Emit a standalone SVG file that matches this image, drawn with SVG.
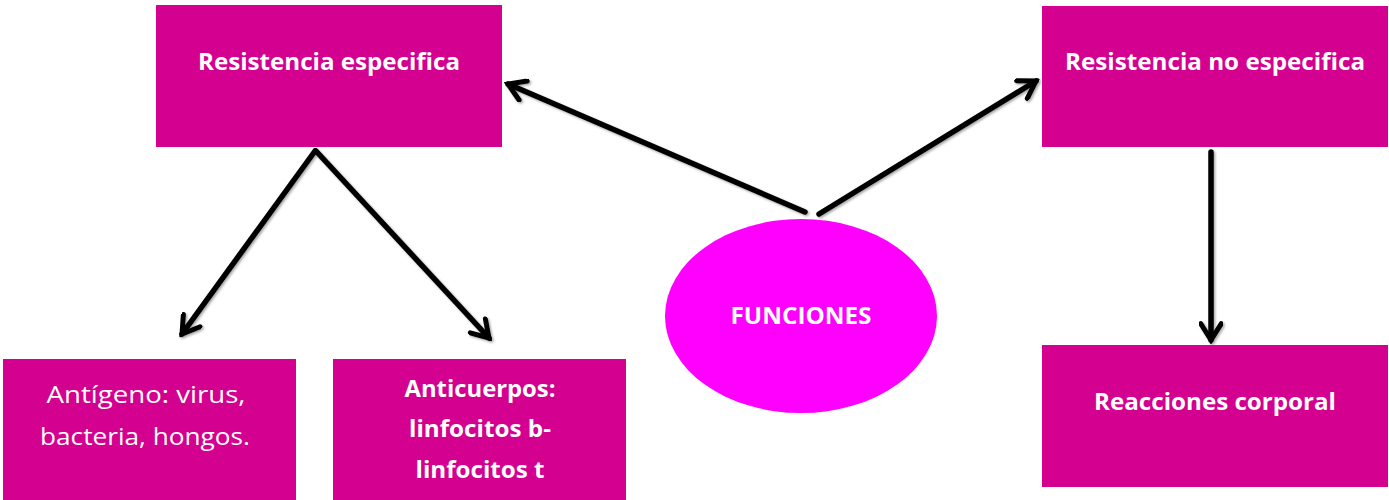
<svg xmlns="http://www.w3.org/2000/svg" width="1389" height="500" viewBox="0 0 1389 500">
<style>
.box{fill:#D4008F;}
.t{font-family:"Open Sans","Noto Sans","Liberation Sans",sans-serif;font-size:24px;fill:#ffffff;text-anchor:middle;}
.b{font-weight:bold;}
.c{stroke:#000;stroke-width:5.5;fill:none;stroke-linecap:round;}
</style>
<defs>
<marker id="ah" viewBox="0 0 12 12" refX="10" refY="6" markerWidth="4.5" markerHeight="4.5" markerUnits="strokeWidth" orient="auto">
<path d="M2,1 L10,6 L2,11" fill="none" stroke="#000" stroke-width="2.4" stroke-linecap="round" stroke-linejoin="miter"/>
</marker>
<filter id="sh" x="-10%" y="-10%" width="120%" height="120%">
<feDropShadow dx="1.5" dy="1.5" stdDeviation="1.2" flood-color="#000" flood-opacity="0.35"/>
</filter>
</defs>
<rect width="1389" height="500" fill="#ffffff"/>
<g id="connectors" filter="url(#sh)">
<line class="c" x1="805" y1="212" x2="508" y2="84" marker-end="url(#ah)"/>
<line class="c" x1="819" y1="214" x2="1036" y2="81" marker-end="url(#ah)"/>
<line class="c" x1="315" y1="151" x2="182" y2="334" marker-end="url(#ah)"/>
<line class="c" x1="316" y1="151" x2="489" y2="338" marker-end="url(#ah)"/>
<line class="c" x1="1211" y1="152" x2="1211" y2="340" marker-end="url(#ah)"/>
</g>
<g id="n-esp">
<rect class="box" x="156" y="5" width="346" height="142"/>
<text class="t b" x="329" y="70" textLength="262" lengthAdjust="spacingAndGlyphs">Resistencia especifica</text>
</g>
<g id="n-noesp">
<rect class="box" x="1042" y="6" width="346" height="141"/>
<text class="t b" x="1215" y="70" textLength="300" lengthAdjust="spacingAndGlyphs">Resistencia no especifica</text>
</g>
<g id="n-antigeno">
<rect class="box" x="3" y="359" width="293" height="141"/>
<text class="t" x="146" y="403" textLength="199" lengthAdjust="spacingAndGlyphs">Antígeno: virus,</text>
<text class="t" x="145" y="445" textLength="210" lengthAdjust="spacingAndGlyphs">bacteria, hongos.</text>
</g>
<g id="n-anticuerpos">
<rect class="box" x="333" y="359" width="293" height="141"/>
<text class="t b" x="480" y="397" textLength="151" lengthAdjust="spacingAndGlyphs">Anticuerpos:</text>
<text class="t b" x="480" y="437" textLength="142" lengthAdjust="spacingAndGlyphs">linfocitos b-</text>
<text class="t b" x="480" y="478" textLength="129" lengthAdjust="spacingAndGlyphs">linfocitos t</text>
</g>
<g id="n-reacciones">
<rect class="box" x="1042" y="345" width="346" height="142"/>
<text class="t b" x="1215" y="410" textLength="242" lengthAdjust="spacingAndGlyphs">Reacciones corporal</text>
</g>
<g id="n-funciones">
<ellipse cx="801" cy="316" rx="136" ry="97" fill="#FF00FF"/>
<text class="t b" x="801" y="324" textLength="141" lengthAdjust="spacingAndGlyphs" style="font-size:23px">FUNCIONES</text>
</g>
</svg>
